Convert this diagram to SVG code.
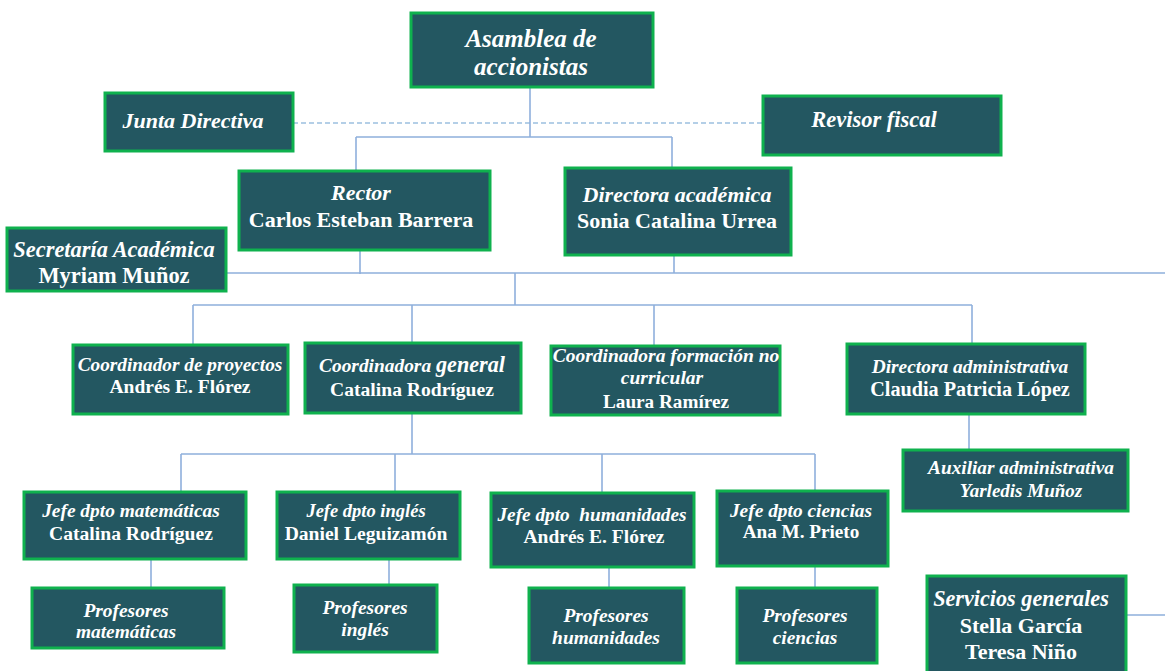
<svg xmlns="http://www.w3.org/2000/svg" width="1165" height="671" viewBox="0 0 1165 671">
<style>
.b{fill:#235761;stroke:#0fb14e;stroke-width:3}
.t{font-family:"Liberation Serif","Times New Roman",serif;font-weight:bold;fill:#ffffff;text-anchor:middle}
.i{font-style:italic}
.c{stroke:#8fb0dc;stroke-width:1.6;fill:none}
.d{stroke:#9cc0e0;stroke-width:1.6;fill:none;stroke-dasharray:5 3}
</style>
<rect width="1165" height="671" fill="#ffffff"/>
<g id="connectors">
<path class="d" d="M293 123H762"/>
<path class="c" d="M530 87V137M356 137H672M356 137V171M672 137V168"/>
<path class="c" d="M226 273H1165M360 250V274M674 255V273M515 273V305M193 305H972M193 305V345M412 305V343M654 305V346M972 305V344"/>
<path class="c" d="M412 413V454M181 454H815M181 454V495M395 454V495M602 454V493M815 454V493M969 414V450"/>
<path class="c" d="M151 552V591M389 555V586M609 557V588M815 566V595M1126 615H1165"/>
</g>
<g id="asamblea"><rect class="b" x="411" y="13" width="242" height="74"/>
<text class="t i" x="531" y="47" font-size="25">Asamblea de</text>
<text class="t i" x="531" y="75" font-size="25">accionistas</text></g>
<g id="junta"><rect class="b" x="105" y="93" width="188" height="58"/>
<text class="t i" x="193" y="128" font-size="22">Junta Directiva</text></g>
<g id="revisor"><rect class="b" x="763" y="96" width="238" height="59"/>
<text class="t i" x="874" y="127" font-size="22.5">Revisor fiscal</text></g>
<g id="rector"><rect class="b" x="239" y="171" width="251" height="79"/>
<text class="t i" x="361" y="200" font-size="22">Rector</text>
<text class="t" x="361" y="227" font-size="22">Carlos Esteban Barrera</text></g>
<g id="directora-academica"><rect class="b" x="565" y="168" width="226" height="87"/>
<text class="t i" x="677" y="202" font-size="22">Directora académica</text>
<text class="t" x="677" y="228" font-size="22">Sonia Catalina Urrea</text></g>
<g id="secretaria"><rect class="b" x="7" y="228" width="219" height="63"/>
<text class="t i" x="114" y="257" font-size="22.4">Secretaría Académica</text>
<text class="t" x="114" y="283" font-size="22.4">Myriam Muñoz</text></g>
<g id="coord-proyectos"><rect class="b" x="73" y="345" width="215" height="69"/>
<text class="t i" x="180" y="371" font-size="19.3">Coordinador de proyectos</text>
<text class="t" x="180" y="393" font-size="19.5">Andrés E. Flórez</text></g>
<g id="coord-general"><rect class="b" x="305" y="343" width="216" height="70"/>
<text class="t i" x="412" y="372" font-size="19.4">Coordinadora <tspan font-size="22.2">general</tspan></text>
<text class="t" x="412" y="396" font-size="19.6">Catalina Rodríguez</text></g>
<g id="coord-formacion"><rect class="b" x="551" y="346" width="229" height="69"/>
<text class="t i" x="666" y="362" font-size="19.5">Coordinadora formación no</text>
<text class="t i" x="662" y="384" font-size="19.5">curricular</text>
<text class="t" x="666" y="408" font-size="19.2">Laura Ramírez</text></g>
<g id="directora-administrativa"><rect class="b" x="847" y="344" width="238" height="70"/>
<text class="t i" x="970" y="373" font-size="19.4">Directora administrativa</text>
<text class="t" x="970" y="396" font-size="20.2">Claudia Patricia López</text></g>
<g id="auxiliar"><rect class="b" x="903" y="450" width="225" height="61"/>
<text class="t i" x="1021" y="474" font-size="19.3">Auxiliar administrativa</text>
<text class="t i" x="1021" y="497" font-size="19">Yarledis Muñoz</text></g>
<g id="jefe-matematicas"><rect class="b" x="24" y="492" width="222" height="67"/>
<text class="t i" x="131" y="517" font-size="19.4">Jefe dpto matemáticas</text>
<text class="t" x="131" y="540" font-size="19.6">Catalina Rodríguez</text></g>
<g id="jefe-ingles"><rect class="b" x="277" y="492" width="183" height="67"/>
<text class="t i" x="366" y="517" font-size="18.5">Jefe dpto inglés</text>
<text class="t" x="366" y="540" font-size="19.6">Daniel Leguizamón</text></g>
<g id="jefe-humanidades"><rect class="b" x="491" y="493" width="203" height="74"/>
<text class="t i" x="592" y="521" font-size="19.3" xml:space="preserve">Jefe dpto  humanidades</text>
<text class="t" x="594" y="543" font-size="19.5">Andrés E. Flórez</text></g>
<g id="jefe-ciencias"><rect class="b" x="717" y="491" width="171" height="75"/>
<text class="t i" x="801" y="517" font-size="19.4">Jefe dpto ciencias</text>
<text class="t" x="801" y="538" font-size="19.2">Ana M. Prieto</text></g>
<g id="prof-matematicas"><rect class="b" x="32" y="588" width="192" height="60"/>
<text class="t i" x="126" y="617" font-size="19.4">Profesores</text>
<text class="t i" x="126" y="638" font-size="19.4">matemáticas</text></g>
<g id="prof-ingles"><rect class="b" x="294" y="585" width="143" height="67"/>
<text class="t i" x="365" y="614" font-size="19.4">Profesores</text>
<text class="t i" x="365" y="636" font-size="19.4">inglés</text></g>
<g id="prof-humanidades"><rect class="b" x="529" y="588" width="155" height="75"/>
<text class="t i" x="606" y="622" font-size="19.4">Profesores</text>
<text class="t i" x="606" y="644" font-size="19.4">humanidades</text></g>
<g id="prof-ciencias"><rect class="b" x="737" y="588" width="140" height="75"/>
<text class="t i" x="805" y="622" font-size="19.4">Profesores</text>
<text class="t i" x="805" y="644" font-size="19.4">ciencias</text></g>
<g id="servicios"><rect class="b" x="927" y="576" width="199" height="100"/>
<text class="t i" x="1021" y="606" font-size="22.2">Servicios generales</text>
<text class="t" x="1021" y="633" font-size="22">Stella García</text>
<text class="t" x="1021" y="659" font-size="22">Teresa Niño</text></g>
</svg>
